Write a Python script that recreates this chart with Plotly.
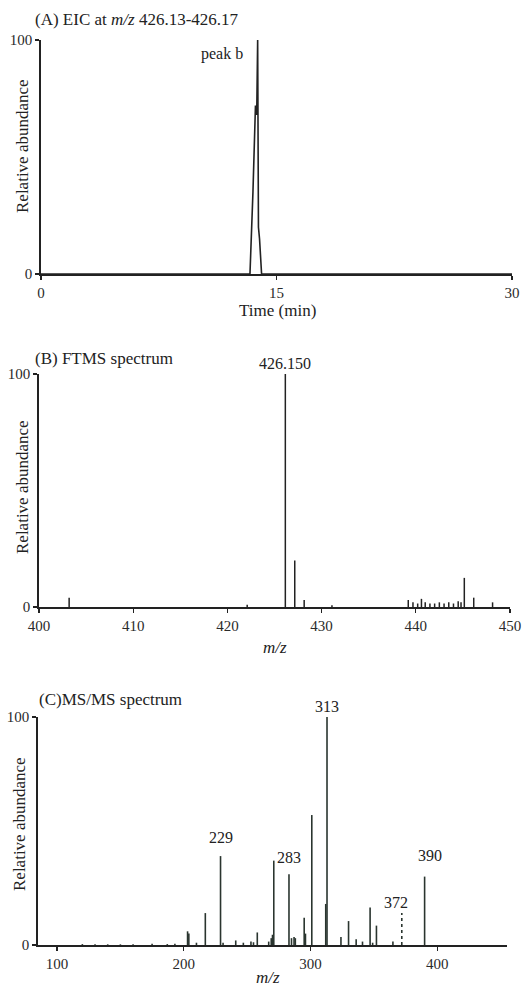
import plotly.graph_objects as go

# ---------------- data ----------------
# (A) extracted ion chromatogram
eic_time = [0, 13.31, 13.50, 13.66, 13.74, 13.80, 13.85, 13.92, 14.05, 30]
eic_abund = [0, 0, 35, 72, 68, 100, 20, 15, 0, 0]

# (B) FTMS spectrum
ftms_mz = [403.2, 422.1, 426.15, 427.15, 428.15, 431.1, 439.2, 439.7, 440.2, 440.6,
           441.0, 441.5, 442.0, 442.5, 443.0, 443.5, 444.0, 444.5, 444.8, 445.15,
           446.15, 448.15]
ftms_abund = [4, 1, 100, 20, 3, 0.7, 3, 2, 1.5, 3.5,
              2, 1.5, 1.5, 2, 1.5, 2, 1.5, 2.5, 2, 12.5,
              4, 2]

# (C) MS/MS spectrum
msms_mz = [120, 130, 140, 150, 160, 175, 187, 193, 203, 204, 210, 217, 229, 231,
           241, 247, 253, 255, 258, 267, 269, 270, 271, 283, 285, 287, 288, 295,
           296, 301, 312, 313, 324, 330, 336, 341, 347, 349, 352, 365, 390]
msms_abund = [0.4, 0.3, 0.3, 0.3, 0.3, 0.5, 0.4, 0.6, 6, 5, 1, 14, 39, 1,
              2, 1, 1.5, 1.2, 5.5, 1.5, 3, 4.5, 37, 31, 3, 3.5, 3, 12,
              5, 57, 18, 100, 3.5, 10.5, 2.5, 1.5, 16.5, 1, 8.5, 1.5, 30]
dashed_mz = [372]
dashed_abund = [14]

ftms_labels = {"426.150": 426.15}
msms_labels = ["229", "283", "313", "372", "390"]

# ---------------- helpers ----------------
W, H = 528, 988
FONT = "Liberation Serif"
INK = "#222222"
INK_C = "#2a352f"


def px(x):
    return x / W


def py(y):
    return 1 - y / H


def sticks(xs, ys):
    sx, sy = [], []
    for x, y in zip(xs, ys):
        sx += [x, x, None]
        sy += [0, y, None]
    return sx, sy


fig = go.Figure()

fig.add_trace(go.Scatter(x=eic_time, y=eic_abund, mode="lines",
                         line=dict(color=INK, width=1.6), xaxis="x", yaxis="y",
                         hoverinfo="skip"))

bx, by = sticks(ftms_mz, ftms_abund)
fig.add_trace(go.Scatter(x=bx, y=by, mode="lines", line=dict(color=INK, width=1.5),
                         xaxis="x2", yaxis="y2", hoverinfo="skip"))

cx, cy = sticks(msms_mz, msms_abund)
fig.add_trace(go.Scatter(x=cx, y=cy, mode="lines", line=dict(color=INK_C, width=1.6),
                         xaxis="x3", yaxis="y3", hoverinfo="skip"))
dx, dy = sticks(dashed_mz, dashed_abund)
fig.add_trace(go.Scatter(x=dx, y=dy, mode="lines",
                         line=dict(color=INK_C, width=1.6, dash="dot"),
                         xaxis="x3", yaxis="y3", hoverinfo="skip"))

axis_common = dict(showline=True, linecolor=INK, linewidth=1.8, ticks="outside",
                   ticklen=4, tickcolor=INK, tickwidth=1.4, showgrid=False,
                   zeroline=False, tickfont=dict(family=FONT, size=15, color="#2a2a2a"),
                   fixedrange=True, automargin=False)

fig.update_layout(
    width=W, height=H, margin=dict(l=0, r=0, t=0, b=0, pad=0, autoexpand=False),
    paper_bgcolor="white", plot_bgcolor="white", showlegend=False,
    xaxis=dict(domain=[px(41), px(512)], range=[0, 30], tickvals=[0, 15, 30],
               anchor="y", **axis_common),
    yaxis=dict(domain=[py(274), py(40)], range=[0, 100], tickvals=[0, 100],
               anchor="x", **axis_common),
    xaxis2=dict(domain=[px(39), px(510)], range=[400, 450], tickvals=[400, 410, 420, 430, 440, 450],
                anchor="y2", **axis_common),
    yaxis2=dict(domain=[py(607), py(374)], range=[0, 100], tickvals=[0, 100],
                anchor="x2", **axis_common),
    xaxis3=dict(domain=[px(38), px(507)], range=[85, 455], tickvals=[100, 200, 300, 400],
                anchor="y3", **axis_common),
    yaxis3=dict(domain=[py(945), py(717)], range=[0, 100], tickvals=[0, 100],
                anchor="x3", **axis_common),
)

ann = []
tfont = dict(family=FONT, size=17, color="#222222")
lfont = dict(family=FONT, size=16, color="#222222")


def paper_text(text, x, y, xanchor="left", font=tfont, angle=0):
    ann.append(dict(text=text, x=px(x), y=py(y), xref="paper", yref="paper",
                    xanchor=xanchor, yanchor="middle", showarrow=False, font=font,
                    textangle=angle))


# titles
paper_text("(A) EIC at <i>m/z</i> 426.13-426.17", 33, 20)
paper_text("(B) FTMS spectrum", 33, 358)
paper_text("(C)MS/MS spectrum", 37, 699)
# axis titles
paper_text("Relative abundance", 22, 146, xanchor="center", angle=-90)
paper_text("Relative abundance", 22, 487, xanchor="center", angle=-90)
paper_text("Relative abundance", 19, 824, xanchor="center", angle=-90)
paper_text("Time (min)", 277, 311, xanchor="center")
paper_text("<i>m/z</i>", 275, 647, xanchor="center")
paper_text("<i>m/z</i>", 268, 977, xanchor="center")

# peak labels
ann.append(dict(text="peak b", x=11.5, y=94, xref="x", yref="y", showarrow=False,
                font=lfont, xanchor="center", yanchor="middle"))
for lbl, mz in ftms_labels.items():
    ann.append(dict(text=lbl, x=mz, y=100, xref="x2", yref="y2", showarrow=False,
                    font=lfont, xanchor="center", yanchor="bottom", yshift=0))

msms_lookup = dict(zip(msms_mz, msms_abund))
msms_lookup.update(dict(zip(dashed_mz, dashed_abund)))
label_shift = {"229": (0, 8), "283": (0, 6), "313": (0, 0), "372": (-6, 0), "390": (5, 11)}
for lbl in msms_labels:
    mz = int(lbl)
    xs, ys = label_shift[lbl]
    ann.append(dict(text=lbl, x=mz, y=msms_lookup[mz], xref="x3", yref="y3",
                    showarrow=False, font=lfont, xanchor="center", yanchor="bottom",
                    xshift=xs, yshift=ys))

fig.update_layout(annotations=ann)
fig.write_html(
    "out.html",
    config={"displayModeBar": False, "staticPlot": True},
    post_script="document.body.style.margin='0px';document.body.style.overflow='hidden';",
)
